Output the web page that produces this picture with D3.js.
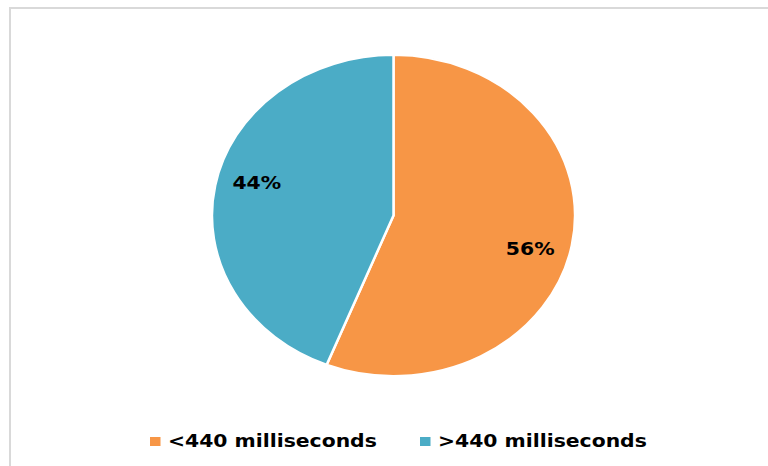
<!DOCTYPE html>
<html>
<head>
<meta charset="utf-8">
<script src="https://cdn.jsdelivr.net/npm/d3@7"></script>
<style>
  body { margin: 0; background: #fff; }
</style>
</head>
<body>
<div id="chart"></div>
<script>
// data
const categories = ["<440 milliseconds", ">440 milliseconds"];
const shares = [56, 44];
const colors = ["#F79646", "#4BACC6"];

const sizes = {
    width: 768,
    height: 466,
    cx: 393.5,
    cy: 215.5,
    radius: 160.5,
    stretch: 1.131   // the chart is drawn wider than it is tall
};

const svg = d3.select("#chart")
              .append("svg")
              .attr("width", sizes.width)
              .attr("height", sizes.height)
              .attr("font-family", "DejaVu Sans, sans-serif")
              .attr("font-weight", "bold");

// chart area frame, only the top and left edges show
svg.append("rect")
   .attr("x", 10)
   .attr("y", 8)
   .attr("width", sizes.width + 20)
   .attr("height", sizes.height + 20)
   .attr("fill", "#fff")
   .attr("stroke", "#d9d9d9")
   .attr("stroke-width", 2);

const pieData = categories.map((c, i) => ({ name: c, value: shares[i], color: colors[i] }));

const pie = d3.pie()
              .sort(null)
              .value(d => d.value);

const arc = d3.arc()
              .innerRadius(0)
              .outerRadius(sizes.radius);

// labels sit a bit inside the centroid, turned slightly clockwise like Excel does
const labelArc = d3.arc()
                   .innerRadius(sizes.radius * 0.78)
                   .outerRadius(sizes.radius * 0.78);
const labelTurn = 0.075;

const g = svg.append("g")
             .attr("transform", `translate(${sizes.cx}, ${sizes.cy}) scale(${sizes.stretch}, 1)`);

g.selectAll("path")
 .data(pie(pieData))
 .join("path")
  .attr("d", arc)
  .attr("fill", d => d.data.color)
  .attr("stroke", "#fff")
  .attr("stroke-width", 2.2);

g.selectAll("text")
 .data(pie(pieData))
 .join("text")
  .attr("transform", d => {
      const a = (d.startAngle + d.endAngle) / 2 + labelTurn;
      const pos = labelArc.centroid({ startAngle: a, endAngle: a });
      return `translate(${pos})`;
  })
  .attr("text-anchor", "middle")
  .attr("dy", "0.36em")
  .attr("font-size", 18)
  .attr("fill", "#000")
  .text(d => d.data.value + "%");

// legend
const legendX = d3.scalePoint()
                  .domain(categories)
                  .range([150, 420]);

const legend = svg.append("g")
                  .selectAll("g")
                  .data(pieData)
                  .join("g")
                  .attr("transform", d => `translate(${legendX(d.name)}, 437)`);

legend.append("rect")
      .attr("width", 10.5)
      .attr("height", 9)
      .attr("fill", d => d.color);

legend.append("text")
      .attr("transform", `translate(18, 9.5) scale(${sizes.stretch}, 1)`)
      .attr("font-size", 18)
      .attr("fill", "#000")
      .text(d => d.name);
</script>
</body>
</html>
